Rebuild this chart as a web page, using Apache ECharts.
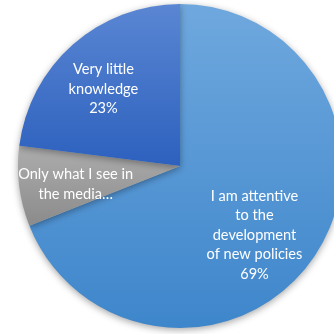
<!DOCTYPE html>
<html>
<head>
<meta charset="utf-8">
<script src="https://cdn.jsdelivr.net/npm/echarts@6/dist/echarts.min.js"></script>
<style>html,body{margin:0;padding:0;background:#fff}#c{width:334px;height:334px}</style>
</head>
<body>
<div id="c"></div>
<script>
var categories = ["I am attentive to the development of new policies", "Only what I see in the media\u2026", "Very little knowledge"];
var values = [69, 8, 23];
var labelTexts = ["I am attentive\nto the\ndevelopment\nof new policies\n69%", "Only what I see in\nthe media\u2026", "Very little\nknowledge\n23%"];

var topColors = ["#6fa8de", "#adadad", "#5a86d3"];
var bottomColors = ["#3e86cb", "#8b8b8b", "#2d61be"];
var labelShift = [[5, 22], [-21, 8], [-21, -14]];

var chart = echarts.init(document.getElementById('c'), null, {renderer: 'canvas'});
chart.setOption({
  animation: false,
  series: [{
    type: 'pie',
    center: [180, 166],
    radius: [0, 162],
    startAngle: 90,
    clockwise: true,
    avoidLabelOverlap: false,
    label: {
      show: true,
      position: 'inside',
      color: '#ffffff',
      fontFamily: 'Lato',
      fontSize: 14.6,
      lineHeight: 19.5,
      align: 'center',
      formatter: function (p) { return labelTexts[p.dataIndex]; }
    },
    labelLine: {show: false},
    labelLayout: function (p) {
      return {dx: labelShift[p.dataIndex][0], dy: labelShift[p.dataIndex][1]};
    },
    itemStyle: {
      borderWidth: 0,
      shadowBlur: 7,
      shadowColor: 'rgba(0,0,0,0.35)',
      shadowOffsetX: 0,
      shadowOffsetY: 2
    },
    emphasis: {disabled: true},
    data: categories.map(function (c, i) {
      return {
        name: c,
        value: values[i],
        itemStyle: {
          color: new echarts.graphic.LinearGradient(0, 0, 0, 1, [
            {offset: 0, color: topColors[i]},
            {offset: 1, color: bottomColors[i]}
          ])
        }
      };
    })
  }]
});
</script>
</body>
</html>
